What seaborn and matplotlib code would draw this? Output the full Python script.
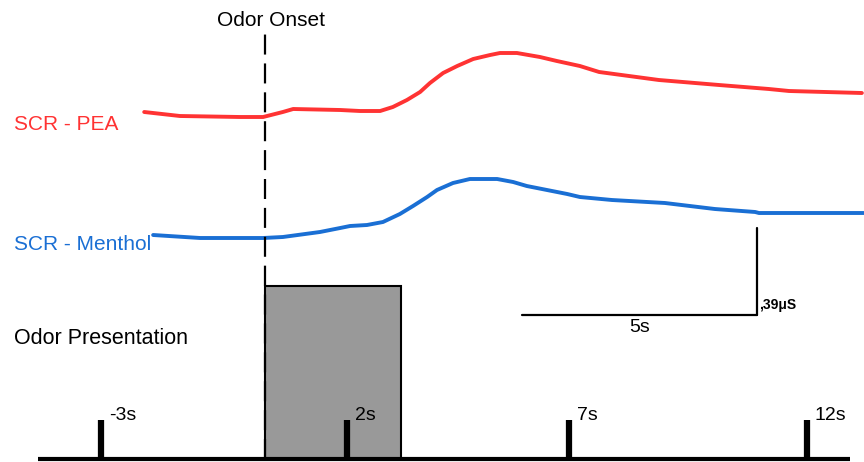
import numpy as np
import pandas as pd
import seaborn as sns
import matplotlib
matplotlib.use("Agg")
import matplotlib.pyplot as plt
from matplotlib.patches import Rectangle

sns.set_style("white")
plt.rcParams['font.family'] = ['Liberation Sans', 'DejaVu Sans']
plt.rcParams['text.color'] = 'black'

# time (s, relative to odor onset) and trace level (arbitrary vertical units)
pea_t = [-2.57, -1.81, -0.53, -0.04, 0.38, 0.60, 1.60, 2.02, 2.45, 2.72, 3.02, 3.30,
         3.51, 3.79, 4.09, 4.43, 4.79, 5.00, 5.36, 5.85, 6.21, 6.70, 7.11, 8.38,
         9.66, 10.72, 11.15, 12.70]
pea_y = [350, 346, 345, 345, 350, 353, 352, 351, 351, 355, 362, 370,
         379, 389, 396, 403, 407, 409, 409, 405, 401, 396, 390, 382,
         377, 373, 371, 369]

menthol_t = [-2.38, -1.38, -0.04, 0.38, 1.17, 1.60, 1.81, 2.17, 2.51, 2.87, 3.15,
             3.45, 3.66, 4.00, 4.36, 4.94, 5.28, 5.57, 6.00, 6.43, 6.70, 7.38,
             8.51, 9.57, 10.43, 10.51, 12.74]
menthol_y = [227, 224, 224, 225, 230, 234, 236, 237, 240, 248, 256,
             265, 272, 279, 283, 283, 280, 276, 272, 268, 265, 262,
             259, 253, 250, 249, 249]

tick_pos = [-3.49, 1.74, 6.47, 11.53]
tick_labels = ["-3s", "2s", "7s", "12s"]

odor_start = 0.0
odor_end = 2.9
scale_t = 5.0          # seconds
scale_amp = 87         # vertical units corresponding to .39 uS

RED = "#ff3333"
BLUE = "#1a6fd4"

fig = plt.figure(figsize=(8.64, 4.62), dpi=100)
ax = fig.add_axes([0, 0, 1, 1])
ax.set_xlim(-5.638, 12.745)
ax.set_ylim(0, 462)
ax.axis("off")

df_pea = pd.DataFrame({"t": pea_t, "y": pea_y})
df_men = pd.DataFrame({"t": menthol_t, "y": menthol_y})
sns.lineplot(data=df_pea, x="t", y="y", ax=ax, color=RED, lw=2.8)
sns.lineplot(data=df_men, x="t", y="y", ax=ax, color=BLUE, lw=2.8)

# odor presentation box
ax.add_patch(Rectangle((odor_start, 3), odor_end - odor_start, 173,
                       facecolor="#999999", edgecolor="black", lw=1.5, zorder=2))

# onset dashed line
ax.plot([odor_start, odor_start], [3, 432], color="black", lw=1.6,
        dashes=(9, 4), zorder=4)

# time axis baseline and ticks
ax.plot([-4.83, 12.45], [3, 3], color="black", lw=3, solid_capstyle="butt", zorder=5)
for tp, tl in zip(tick_pos, tick_labels):
    ax.plot([tp, tp], [3, 42], color="black", lw=4.5, solid_capstyle="butt", zorder=5)
    ax.text(tp + 0.17, 47, tl, fontsize=14, ha="left", va="center")

# scale bar
bar_x1 = 10.47
bar_x0 = bar_x1 - scale_t
ax.plot([bar_x0, bar_x1], [147, 147], color="black", lw=1.6)
ax.plot([bar_x1, bar_x1], [147, 147 + scale_amp], color="black", lw=1.6)
ax.text((bar_x0 + bar_x1) / 2, 134, "5s", fontsize=14, ha="center", va="center")
ax.text(bar_x1 + 0.05, 157, ",39μS", fontsize=10, fontweight="bold", ha="left", va="center")

# labels
ax.text(0.13, 442, "Odor Onset", fontsize=15, ha="center", va="center")
ax.text(-5.34, 338, "SCR - PEA", fontsize=15, color=RED, ha="left", va="center")
ax.text(-5.34, 217, "SCR - Menthol", fontsize=15, color=BLUE, ha="left", va="center")
ax.text(-5.34, 124, "Odor Presentation", fontsize=15.5, ha="left", va="center")

fig.savefig("out.png", dpi=100)
